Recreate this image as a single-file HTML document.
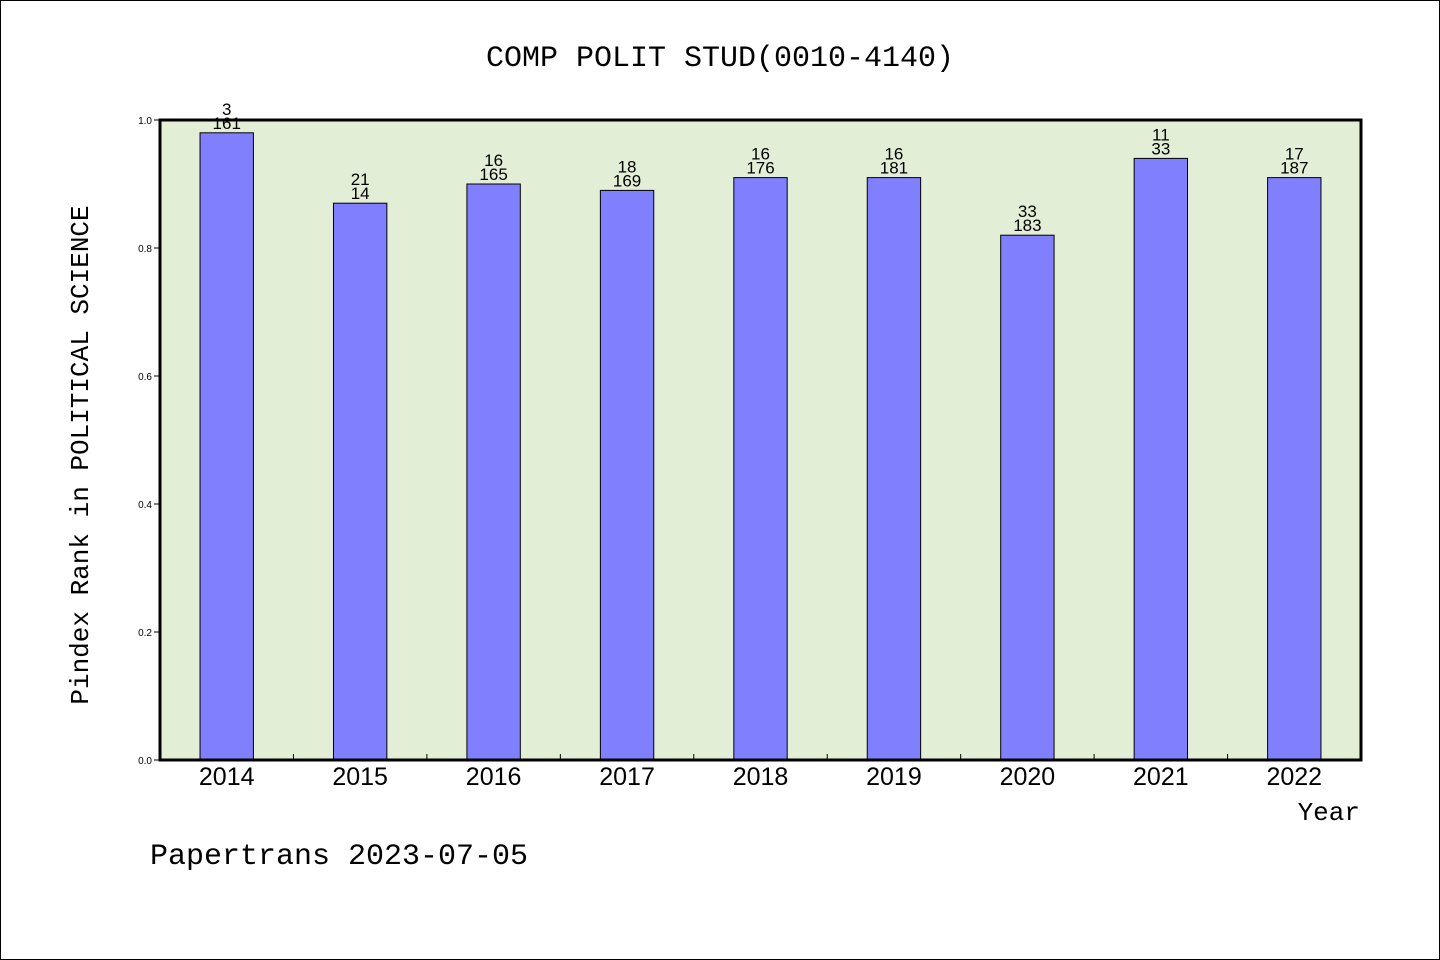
<!DOCTYPE html>
<html><head><meta charset="utf-8"><style>
body{margin:0;background:#fff;}
svg{display:block;font-family:"Liberation Mono","DejaVu Sans Mono",monospace;}
</style></head><body>
<svg width="1440" height="960" viewBox="0 0 1440 960">
<rect x="0.5" y="0.5" width="1439" height="959" fill="#fff" stroke="#000"/>
<text x="720" y="66" text-anchor="middle" font-size="30">COMP POLIT STUD(0010-4140)</text>
<rect x="160" y="120" width="1201" height="640" fill="#e2efd6"/>
<g id="bars"></g>
<g id="axes"></g>
<rect x="160" y="120" width="1201" height="640" fill="none" stroke="#000" stroke-width="3"/>
<text transform="translate(88,455) rotate(-90)" text-anchor="middle" font-size="26">Pindex Rank in POLITICAL SCIENCE</text>
<text x="1360" y="820" text-anchor="end" font-size="26">Year</text>
<text x="150" y="864" font-size="30">Papertrans 2023-07-05</text>
</svg>
<script>
const categories=["2014","2015","2016","2017","2018","2019","2020","2021","2022"];
const values=[0.98,0.87,0.90,0.89,0.91,0.91,0.82,0.94,0.91];
const rankLabels=["3","21","16","18","16","16","33","11","17"];
const totalLabels=["161","14","165","169","176","181","183","33","187"];
const yTicks=["0.0","0.2","0.4","0.6","0.8","1.0"];
const NS="http://www.w3.org/2000/svg";
const x0=160,x1=1361,yb=760,yt=120;
const slot=(x1-x0)/categories.length;
const xc=i=>x0+slot*(i+0.5);
const y=v=>yb-(yb-yt)*v;
function mk(t,a,p){const e=document.createElementNS(NS,t);for(const k in a)e.setAttribute(k,a[k]);p.appendChild(e);return e;}
const bars=document.getElementById('bars'),axes=document.getElementById('axes');
const bw=slot*0.4;
categories.forEach((c,i)=>{
 const r=mk('rect',{x:xc(i)-bw/2,y:y(values[i]),width:bw,height:yb-y(values[i]),fill:'#8080ff',stroke:'#000','stroke-width':1},bars);
 
 
 const t1=mk('text',{x:xc(i),y:y(values[i])-18,'text-anchor':'middle','font-size':17,'font-family':'Liberation Sans, sans-serif'},bars);
 t1.textContent=rankLabels[i];
 
 
 const t2=mk('text',{x:xc(i),y:y(values[i])-4,'text-anchor':'middle','font-size':17,'font-family':'Liberation Sans, sans-serif'},bars);
 t2.textContent=totalLabels[i];
 
 
 const xl=mk('text',{x:xc(i),y:785,'text-anchor':'middle','font-size':25,'font-family':'Liberation Sans, sans-serif'},axes);
 xl.textContent=c;
 
 
 if(i>0){const tk=mk('line',{x1:x0+slot*i,x2:x0+slot*i,y1:yb,y2:yb-6,stroke:'#000'},axes);
 
 }
});
yTicks.forEach(s=>{
 const v=parseFloat(s);
 const tk=mk('line',{x1:x0-6,x2:x0,y1:y(v),y2:y(v),stroke:'#000'},axes);
 
 
 const t=mk('text',{x:x0-8,y:y(v)+4,'text-anchor':'end','font-size':10,'font-family':'Liberation Sans, sans-serif'},axes);
 t.textContent=s;
 
 
});
</script>
</body></html>
